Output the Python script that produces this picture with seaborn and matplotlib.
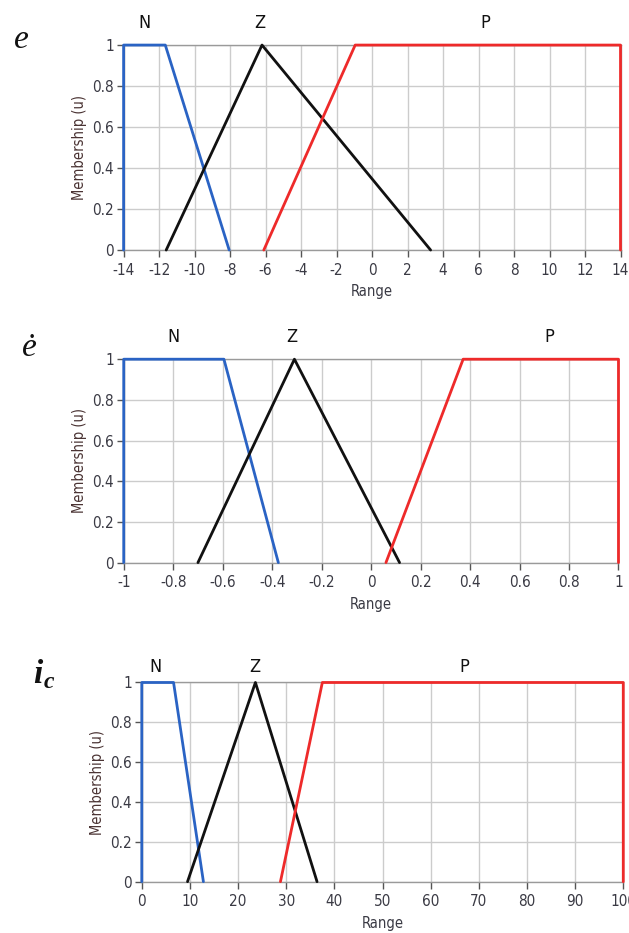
import matplotlib
matplotlib.use("Agg")
import matplotlib.pyplot as plt
import matplotlib.transforms as mtransforms
from matplotlib import font_manager
import pandas as pd
import seaborn as sns

# ---- membership functions (x breakpoints, membership values) ----
set_names = ["N", "Z", "P"]

e_N_x = [-14, -14, -11.65, -8.05]
e_N_u = [0, 1, 1, 0]
e_Z_x = [-11.6, -6.2, 3.3]
e_Z_u = [0, 1, 0]
e_P_x = [-6.1, -0.95, 14, 14]
e_P_u = [0, 1, 1, 0]
e_xticks = [-14, -12, -10, -8, -6, -4, -2, 0, 2, 4, 6, 8, 10, 12, 14]
e_xlabels = ["-14", "-12", "-10", "-8", "-6", "-4", "-2", "0", "2", "4", "6", "8", "10", "12", "14"]
e_set_label_x = [-12.8, -6.3, 6.4]

de_N_x = [-1, -1, -0.595, -0.375]
de_N_u = [0, 1, 1, 0]
de_Z_x = [-0.7, -0.31, 0.115]
de_Z_u = [0, 1, 0]
de_P_x = [0.06, 0.372, 1, 1]
de_P_u = [0, 1, 1, 0]
de_xticks = [-1, -0.8, -0.6, -0.4, -0.2, 0, 0.2, 0.4, 0.6, 0.8, 1]
de_xlabels = ["-1", "-0.8", "-0.6", "-0.4", "-0.2", "0", "0.2", "0.4", "0.6", "0.8", "1"]
de_set_label_x = [-0.8, -0.32, 0.72]

ic_N_x = [0, 0, 6.6, 12.8]
ic_N_u = [0, 1, 1, 0]
ic_Z_x = [9.5, 23.6, 36.4]
ic_Z_u = [0, 1, 0]
ic_P_x = [28.8, 37.5, 100, 100]
ic_P_u = [0, 1, 1, 0]
ic_xticks = [0, 10, 20, 30, 40, 50, 60, 70, 80, 90, 100]
ic_xlabels = ["0", "10", "20", "30", "40", "50", "60", "70", "80", "90", "100"]
ic_set_label_x = [2.9, 23.5, 67.0]

u_ticks = [0, 0.2, 0.4, 0.6, 0.8, 1]
u_labels = ["0", "0.2", "0.4", "0.6", "0.8", "1"]

set_colors = {"N": "#2a63c4", "Z": "#111111", "P": "#ee2a2a"}

sns.set_style("white")
installed = {f.name for f in font_manager.fontManager.ttflist}
narrow = "Liberation Sans Narrow" if "Liberation Sans Narrow" in installed else "DejaVu Sans"
plt.rcParams["font.family"] = [narrow, "DejaVu Sans"]
plt.rcParams["font.stretch"] = "condensed"
plt.rcParams["axes.unicode_minus"] = False

fig = plt.figure(figsize=(6.29, 9.33), dpi=100)


def frame(xs, us):
    rows = []
    for name, x, u in zip(set_names, xs, us):
        for i, (a, b) in enumerate(zip(x, u)):
            rows.append({"set": name, "step": i, "x": a, "u": b})
    return pd.DataFrame(rows)


def panel(rect, xs, us, xticks, xlabels, label_x, label_y):
    ax = fig.add_axes(rect)
    df = frame(xs, us)
    sns.lineplot(data=df, x="x", y="u", hue="set", palette=set_colors,
                 sort=False, estimator=None, legend=False, lw=2.0,
                 clip_on=False, zorder=5, ax=ax)
    ax.set_xlim(xticks[0], xticks[-1])
    ax.set_ylim(0, 1)
    ax.set_xticks(xticks)
    ax.set_xticklabels(xlabels)
    ax.set_yticks(u_ticks)
    ax.set_yticklabels(u_labels)
    ax.grid(True, color="#cccccc", lw=1.0)
    ax.set_axisbelow(True)
    for s in ax.spines.values():
        s.set_color("#9a9a9a")
        s.set_linewidth(1.0)
    ax.tick_params(axis="both", direction="out", length=5, width=1,
                   color="#555555", labelcolor="#3a3a44", labelsize=11,
                   left=True, bottom=True)
    ax.tick_params(axis="x", pad=4)
    ax.tick_params(axis="y", pad=2)
    ax.set_xlabel("Range", fontsize=10.5, color="#3a3a44", labelpad=5)
    ax.set_ylabel("Membership (u)", fontsize=10.5, color="#4a3333", labelpad=4)
    trans = mtransforms.blended_transform_factory(ax.transData, ax.transAxes)
    for name, lx in zip(set_names, label_x):
        ax.text(lx, label_y, name, transform=trans, ha="center", va="center",
                fontsize=13, color="#111111")
    return ax


panel([0.1965, 0.732, 0.790, 0.2197],
      [e_N_x, e_Z_x, e_P_x], [e_N_u, e_Z_u, e_P_u],
      e_xticks, e_xlabels, e_set_label_x, 1.11)
panel([0.1967, 0.3970, 0.7866, 0.2180],
      [de_N_x, de_Z_x, de_P_x], [de_N_u, de_Z_u, de_P_u],
      de_xticks, de_xlabels, de_set_label_x, 1.11)
panel([0.2254, 0.0550, 0.7655, 0.2135],
      [ic_N_x, ic_Z_x, ic_P_x], [ic_N_u, ic_Z_u, ic_P_u],
      ic_xticks, ic_xlabels, ic_set_label_x, 1.08)

# variable names beside each panel
fig.text(0.034, 0.957, "e", fontsize=24, family="Liberation Serif",
         style="italic", stretch="normal", ha="center", va="center", color="#111111")
fig.text(0.046, 0.627, "ė", fontsize=24, family="Liberation Serif",
         style="italic", stretch="normal", ha="center", va="center", color="#111111")
fig.text(0.060, 0.277, "i", fontsize=24, family="Liberation Serif",
         style="italic", weight="bold", stretch="normal", ha="center", va="center", color="#111111")
fig.text(0.077, 0.268, "c", fontsize=17, family="Liberation Serif",
         style="italic", weight="bold", stretch="normal", ha="center", va="center", color="#111111")

fig.savefig("out.png", dpi=100)
